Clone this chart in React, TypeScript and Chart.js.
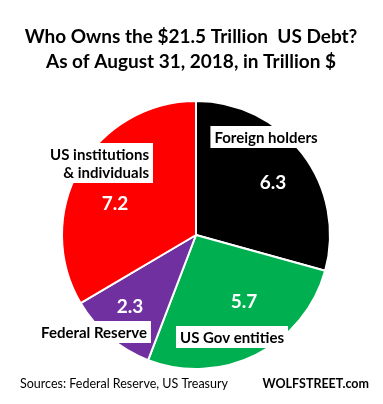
import React, { useEffect, useRef } from "react";
import { Chart, registerables } from "chart.js";

Chart.register(...registerables);

const categories = ["Foreign holders", "US Gov entities", "Federal Reserve", "US institutions & individuals"];
const labelLines = [["Foreign holders"], ["US Gov entities"], ["Federal Reserve"], ["US institutions", "& individuals"]];
const values = [6.3, 5.7, 2.3, 7.2];
const colors = ["#000000", "#00B050", "#7030A0", "#FF0000"];
const titleLines = ["Who Owns the $21.5 Trillion  US Debt?", "As of August 31, 2018, in Trillion $"];
const sourceText = "Sources: Federal Reserve, US Treasury";
const brandText = "WOLFSTREET.com";

// annotation layout: offsets from pie centre (px)
const valueOffsets = [[77, -52], [48, 67], [-66, 72], [-81, -31]];
const nameOffsets = [[70, -98, "center"], [36, 102, "center"], [-102, 97, "center"], [-47, -72, "right"]];

const FONT = "Lato, 'Open Sans', sans-serif";

const textPlugin = {
  id: "texts",
  afterDraw(chart: any) {
    const ctx = chart.ctx as CanvasRenderingContext2D;
    const meta = chart.getDatasetMeta(0);
    const arc0 = meta.data[0] as any;
    const cx = arc0.x;
    const cy = arc0.y;
    ctx.save();
    // title
    ctx.fillStyle = "#000";
    ctx.textAlign = "center";
    ctx.textBaseline = "alphabetic";
    ctx.font = `bold 19px ${FONT}`;
    ctx.fillText(titleLines[0], 191, 43);
    ctx.fillText(titleLines[1], 191, 68);
    // values
    ctx.font = `bold 19px ${FONT}`;
    ctx.fillStyle = "#fff";
    ctx.textBaseline = "middle";
    values.forEach((v, i) => {
      const [dx, dy] = valueOffsets[i];
      ctx.fillText(v.toFixed(1), cx + dx, cy + dy);
    });
    // names with white boxes
    ctx.font = `bold 15px ${FONT}`;
    labelLines.forEach((lines, i) => {
      const [dx, dy, align] = nameOffsets[i] as [number, number, string];
      const lh = 18;
      const widths = lines.map((l) => ctx.measureText(l).width);
      const maxW = Math.max(...widths);
      const bx = cx + dx;
      const by = cy + dy;
      const h = lines.length * lh;
      let left = align === "center" ? bx - maxW / 2 : bx - maxW;
      ctx.fillStyle = "#fff";
      ctx.fillRect(left - 4, by - h / 2 - 2, maxW + 8, h + 4);
      ctx.fillStyle = "#000";
      ctx.textAlign = align as CanvasTextAlign;
      lines.forEach((l, k) => {
        ctx.fillText(l, bx, by - h / 2 + lh / 2 + k * lh + 1);
      });
    });
    // footer
    ctx.textBaseline = "alphabetic";
    ctx.textAlign = "left";
    ctx.font = `12.5px ${FONT}`;
    ctx.fillText(sourceText, 20, 388);
    ctx.font = `bold 12.5px ${FONT}`;
    ctx.textAlign = "right";
    ctx.fillText(brandText, 369, 388);
    ctx.restore();
  },
};

export default function App() {
  const ref = useRef<HTMLCanvasElement>(null);
  useEffect(() => {
    if (!ref.current) return;
    const chart = new Chart(ref.current, {
      type: "pie",
      data: {
        labels: categories,
        datasets: [
          {
            data: values,
            backgroundColor: colors,
            borderColor: "#ffffff",
            borderWidth: 2,
          },
        ],
      },
      options: {
        responsive: false,
        animation: false,
        layout: { padding: { left: 61, right: 52, top: 100, bottom: 34 } },
        plugins: {
          legend: { display: false },
          title: { display: false },
          tooltip: { enabled: false },
        },
      },
      plugins: [textPlugin],
    });
    return () => chart.destroy();
  }, []);
  return (
    <div style={{ position: "absolute", left: 0, top: 0, width: 383, height: 404, background: "#fff" }}>
      <canvas ref={ref} width={383} height={404} style={{ display: "block" }} />
    </div>
  );
}
